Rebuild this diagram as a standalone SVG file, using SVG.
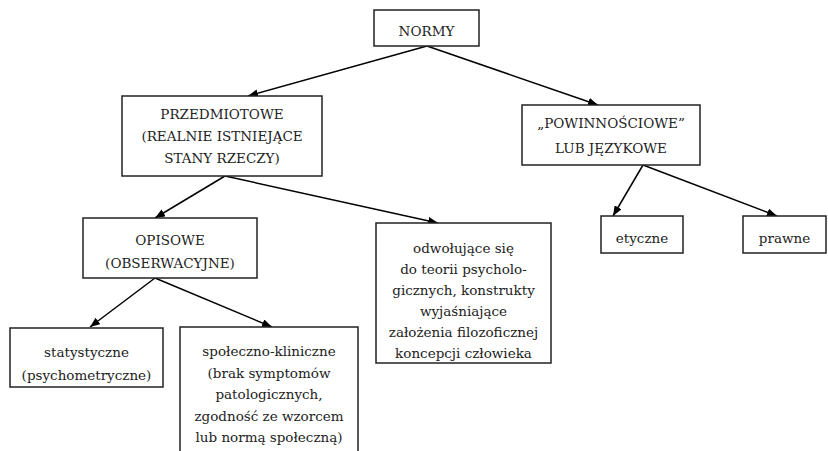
<svg xmlns="http://www.w3.org/2000/svg" width="828" height="451" viewBox="0 0 828 451">
<style>
rect{fill:#fff;stroke:#222;stroke-width:1.5}
text{font-family:'DejaVu Serif','Liberation Serif',serif;font-size:13.5px;fill:#222;text-anchor:middle}
.c line{stroke:#000;stroke-width:1.5;marker-end:url(#ah)}
</style>
<defs>
<marker id="ah" viewBox="0 0 10 8" refX="10" refY="4" markerWidth="10" markerHeight="8" markerUnits="userSpaceOnUse" orient="auto">
<path d="M0,0L10,4L0,8z" fill="#000"/>
</marker>
</defs>
<rect x="0" y="0" width="828" height="451" style="stroke:none;fill:#fff"/>
<g class="c" id="connectors">
<line x1="427" y1="46" x2="248" y2="96"/>
<line x1="427" y1="46" x2="598" y2="105"/>
<line x1="225" y1="176" x2="155" y2="218"/>
<line x1="225" y1="176" x2="438" y2="223"/>
<line x1="155" y1="278" x2="90" y2="327"/>
<line x1="155" y1="278" x2="272" y2="327"/>
<line x1="643" y1="165" x2="613" y2="216"/>
<line x1="643" y1="165" x2="777" y2="216"/>
</g>
<g font-family="DejaVu Serif, Liberation Serif, serif">
<g id="normy"><rect x="374" y="10" width="105" height="36"/><text x="426.5" y="36">NORMY</text></g>
<g id="przedmiotowe"><rect x="122" y="96" width="200" height="80"/>
<text x="222" y="119">PRZEDMIOTOWE</text><text x="222" y="141">(REALNIE ISTNIEJĄCE</text><text x="222" y="163">STANY RZECZY)</text></g>
<g id="powinnosciowe"><rect x="522" y="105" width="178" height="60"/>
<text x="611" y="128">„POWINNOŚCIOWE”</text><text x="611" y="153">LUB JĘZYKOWE</text></g>
<g id="opisowe"><rect x="83" y="218" width="174" height="60"/>
<text x="170" y="245">OPISOWE</text><text x="170" y="268">(OBSERWACYJNE)</text></g>
<g id="odwolujace"><rect x="376" y="223" width="175" height="140"/>
<text x="463.5" y="253">odwołujące się</text><text x="463.5" y="274">do teorii psycholo-</text><text x="463.5" y="295">gicznych, konstrukty</text><text x="463.5" y="316">wyjaśniające</text><text x="463.5" y="337">założenia filozoficznej</text><text x="463.5" y="358">koncepcji człowieka</text></g>
<g id="etyczne"><rect x="601" y="216" width="82" height="37"/><text x="642" y="243">etyczne</text></g>
<g id="prawne"><rect x="743" y="216" width="83" height="37"/><text x="784.5" y="243">prawne</text></g>
<g id="statystyczne"><rect x="10" y="328" width="153" height="59"/>
<text x="86.5" y="357">statystyczne</text><text x="86.5" y="380">(psychometryczne)</text></g>
<g id="spoleczno"><rect x="180" y="327" width="178" height="140"/>
<text x="269" y="356">społeczno-kliniczne</text><text x="269" y="378">(brak symptomów</text><text x="269" y="399">patologicznych,</text><text x="269" y="421">zgodność ze wzorcem</text><text x="269" y="442">lub normą społeczną)</text></g>
</g>
</svg>
